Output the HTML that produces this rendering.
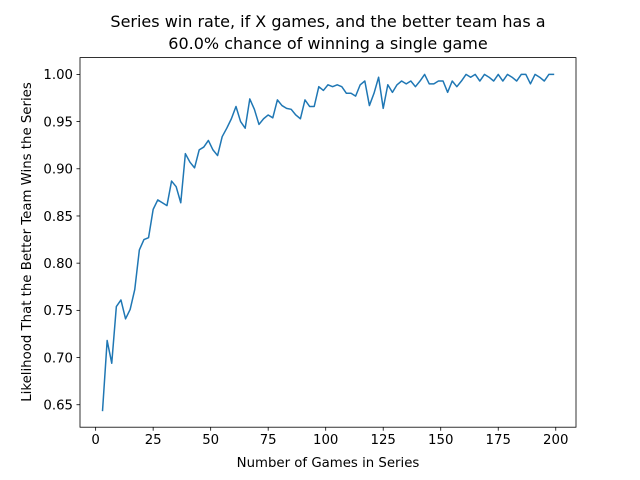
<!DOCTYPE html>
<html><head><meta charset="utf-8"><style>
body{margin:0;background:#fff;}
svg{display:block;font-family:"DejaVu Sans","Liberation Sans",sans-serif;}
</style></head><body>
<svg id="chart" width="640" height="480" viewBox="0 0 640 480" xmlns="http://www.w3.org/2000/svg">
<rect width="640" height="480" fill="#fff"/>
<text x="328" y="27" font-size="16" text-anchor="middle">Series win rate, if X games, and the better team has a</text>
<text x="328" y="49" font-size="16" text-anchor="middle">60.0% chance of winning a single game</text>
<g id="ticks"></g>
<path id="line" fill="none" stroke="#1f77b4" stroke-width="1.5" stroke-linejoin="round" stroke-linecap="square"/>
<rect x="80" y="57.6" width="496" height="369.6" fill="none" stroke="#000" stroke-width="0.8"/>
<text x="328" y="467" font-size="13.3" text-anchor="middle">Number of Games in Series</text>
<text transform="translate(31,242) rotate(-90)" font-size="13.3" text-anchor="middle">Likelihood That the Better Team Wins the Series</text>
</svg>
<script>
const gameCounts = [];
for (let g = 3; g <= 199; g += 2) gameCounts.push(g);
const winRates = [0.644,0.718,0.694,0.754,0.761,0.741,0.751,0.772,0.814,0.825,0.827,0.857,0.867,0.864,0.861,0.887,0.881,0.864,0.916,0.907,0.901,0.920,0.923,0.930,0.920,0.914,0.934,0.943,0.953,0.966,0.950,0.943,0.974,
0.963,0.947,0.953,0.957,0.954,0.973,0.967,0.964,0.963,0.957,0.953,0.973,0.966,0.966,0.987,0.983,0.989,0.987,0.989,0.987,0.980,0.980,0.977,0.989,0.993,0.967,0.980,0.997,0.964,0.989,0.981,0.989,0.993,0.990,
0.993,0.987,0.993,1.0,0.990,0.990,0.993,0.993,0.981,0.993,0.987,0.993,1.0,0.997,1.0,0.993,1.0,0.997,0.993,1.0,0.993,1.0,0.997,0.993,1.0,1.0,0.990,1.0,0.997,0.993,1.0,1.0];
const xTicks = [0,25,50,75,100,125,150,175,200];
const yTicks = [0.65,0.70,0.75,0.80,0.85,0.90,0.95,1.00];

const L=80,R=576,T=57.6,B=427.2;
const xmin=Math.min(...gameCounts), xmax=Math.max(...gameCounts);
const ymin=Math.min(...winRates), ymax=Math.max(...winRates);
const x0=xmin-(xmax-xmin)*0.05, x1=xmax+(xmax-xmin)*0.05;
const y0=ymin-(ymax-ymin)*0.05, y1=ymax+(ymax-ymin)*0.05;
const sx=v=>L+(v-x0)/(x1-x0)*(R-L);
const sy=v=>B-(v-y0)/(y1-y0)*(B-T);
const NS="http://www.w3.org/2000/svg";
const tg=document.getElementById('ticks');
function mk(tag,attrs,txt){const e=document.createElementNS(NS,tag);for(const k in attrs)e.setAttribute(k,attrs[k]);if(txt!==undefined)e.textContent=txt;tg.appendChild(e);return e;}
xTicks.forEach(t=>{
  const x=sx(t);
  const l=mk('line',{x1:x,x2:x,y1:B,y2:B+3.5,stroke:'#000','stroke-width':0.8});
  
  
  const s=mk('text',{x:x,y:B+17,'font-size':13.3,'text-anchor':'middle'},String(t));
  
  
});
yTicks.forEach(t=>{
  const y=sy(t);
  const l=mk('line',{x1:L-3.5,x2:L,y1:y,y2:y,stroke:'#000','stroke-width':0.8});
  
  
  const s=mk('text',{x:L-7,y:y+4.8,'font-size':13.3,'text-anchor':'end'},t.toFixed(2));
  
  
});
document.getElementById('line').setAttribute('d',gameCounts.map((g,i)=>(i?'L':'M')+sx(g).toFixed(2)+','+sy(winRates[i]).toFixed(2)).join(''));
</script>
</body></html>
